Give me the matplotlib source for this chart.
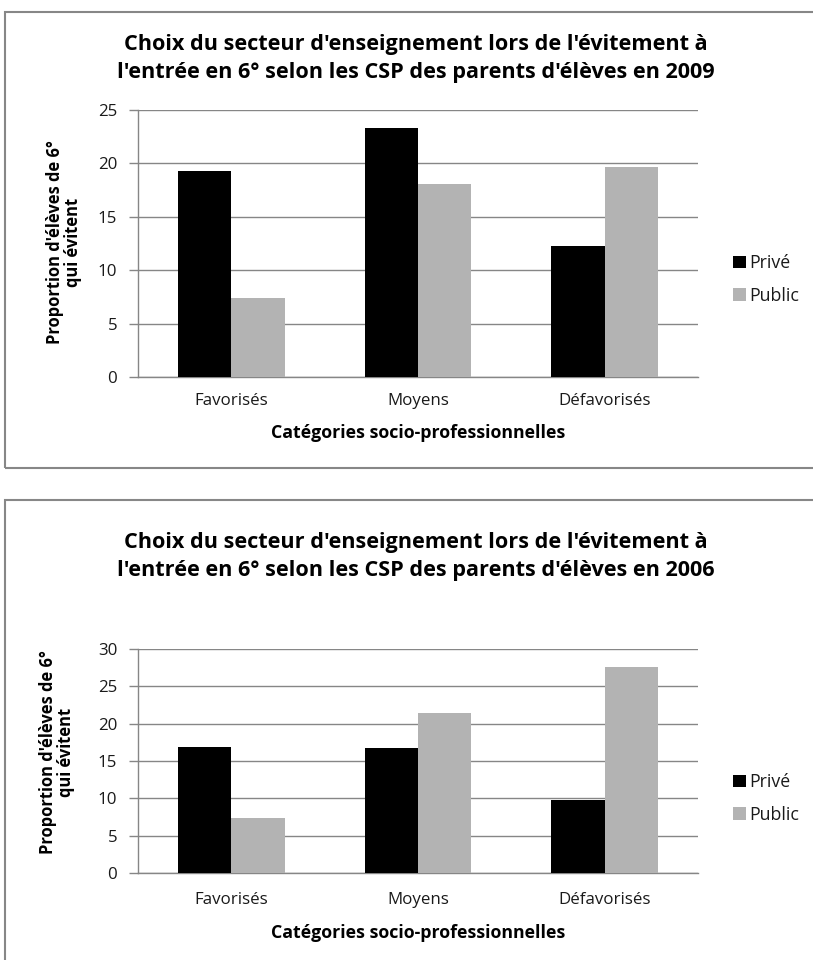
import matplotlib
matplotlib.use("Agg")
import matplotlib.pyplot as plt
from matplotlib.patches import Rectangle
import numpy as np

FAM = ['Open Sans', 'DejaVu Sans']
plt.rcParams['font.family'] = FAM

categories = ['Favorisés', 'Moyens', 'Défavorisés']
series_names = ['Privé', 'Public']
prive_2009 = [19.3, 23.3, 12.3]
public_2009 = [7.4, 18.1, 19.7]
prive_2006 = [16.9, 16.7, 9.8]
public_2006 = [7.4, 21.4, 27.6]
yticks_2009 = [0, 5, 10, 15, 20, 25]
yticks_2006 = [0, 5, 10, 15, 20, 25, 30]
title_2009 = "Choix du secteur d'enseignement lors de l'évitement à\nl'entrée en 6° selon les CSP des parents d'élèves en 2009"
title_2006 = "Choix du secteur d'enseignement lors de l'évitement à\nl'entrée en 6° selon les CSP des parents d'élèves en 2006"
ylabel = "Proportion d'élèves de 6°\nqui évitent"
xlabel = "Catégories socio-professionnelles"

W, H = 813, 960
fig = plt.figure(figsize=(W / 100, H / 100), dpi=100)
renderer = fig.canvas.get_renderer()

GRID = '#868686'
BOX = '#878787'
COLORS = ['#000000', '#b3b3b3']
TXT = '#1a1a1a'


def fit_size(text, target_px, weight='normal'):
    t = fig.text(0, 0, text, fontsize=10, fontweight=weight)
    w = t.get_window_extent(renderer).width
    t.remove()
    return 10 * target_px / w


TITLE_FS = fit_size(title_2009.split('\n')[1], 600, 'bold')
TICK_FS = fit_size('Défavorisés', 92)
LEG_FS = fit_size('Public', 50)
YLAB_FS = fit_size(ylabel.split('\n')[0], 205, 'bold')
XLAB_FS = fit_size(xlabel, 295, 'bold')


def fx(px):
    return px / W


def fy(py):
    return 1 - py / H


def draw_chart(top_box, bot_box, ax_top, ax_bot, title, t1, t2, prive, public, yticks,
               ylab_x, ylab_y, leg_y, xtick_y, xlab_y):
    fig.patches.append(Rectangle((fx(5), fy(bot_box)), 1.2, (bot_box - top_box) / H,
                                 transform=fig.transFigure, fill=False,
                                 edgecolor=BOX, linewidth=1.5, zorder=0))
    ax = fig.add_axes([fx(138), fy(ax_bot), fx(698) - fx(138), (ax_bot - ax_top) / H])
    x = np.arange(len(categories))
    bw = 0.286
    b1 = ax.bar(x - bw / 2, prive, bw, color=COLORS[0], label=series_names[0], zorder=3)
    b2 = ax.bar(x + bw / 2, public, bw, color=COLORS[1], label=series_names[1], zorder=3)
    ax.set_xlim(-0.5, len(categories) - 0.5)
    ax.set_ylim(yticks[0], yticks[-1])
    ax.set_yticks(yticks)
    ax.set_yticklabels([str(v) for v in yticks], fontsize=TICK_FS, color=TXT)
    ax.set_xticks(x)
    ax.set_xticklabels(categories, fontsize=TICK_FS, color=TXT)
    ax.tick_params(axis='y', direction='out', length=6.5, width=1, color=GRID, pad=8.5)
    xpad = (xtick_y - ax_bot) * 0.72 - TICK_FS * 0.62
    ax.tick_params(axis='x', length=0, pad=xpad)
    ax.grid(axis='y', color=GRID, linewidth=1, zorder=0)
    for s in ['top', 'right']:
        ax.spines[s].set_visible(False)
    for s in ['left', 'bottom']:
        ax.spines[s].set_color(GRID)
        ax.spines[s].set_linewidth(1)
    lines = title.split('\n')
    fig.text(fx(416), fy(t1), lines[0], ha='center', va='baseline', fontsize=TITLE_FS,
             fontweight='bold', color='black')
    fig.text(fx(416), fy(t2), lines[1], ha='center', va='baseline', fontsize=TITLE_FS,
             fontweight='bold', color='black')
    fig.text(fx(ylab_x), fy(ylab_y), ylabel, ha='center', va='center', rotation=90,
             fontsize=YLAB_FS, fontweight='bold', linespacing=1.0, multialignment='center')
    fig.text(fx(418), fy(xlab_y), xlabel, ha='center', va='center', fontsize=XLAB_FS,
             fontweight='bold')
    fs_px = LEG_FS * 100 / 72
    fig.legend(handles=[b1, b2], labels=series_names, loc='center left',
               bbox_to_anchor=(fx(733), fy(leg_y)), frameon=False, fontsize=LEG_FS,
               handlelength=13 / fs_px, handleheight=13 / fs_px, handletextpad=0.2,
               labelspacing=(35 - 1.15 * fs_px) / fs_px, borderpad=0, borderaxespad=0,
               labelcolor=TXT)
    return ax


draw_chart(12, 468, 110, 377, title_2009, 50, 78, prive_2009, public_2009, yticks_2009,
           64, 242, 279.5, 403, 433)
draw_chart(500, 1000, 649, 873, title_2006, 548, 576, prive_2006, public_2006, yticks_2006,
           57, 752, 798.5, 902, 933)

fig.savefig('out.png', dpi=100)
